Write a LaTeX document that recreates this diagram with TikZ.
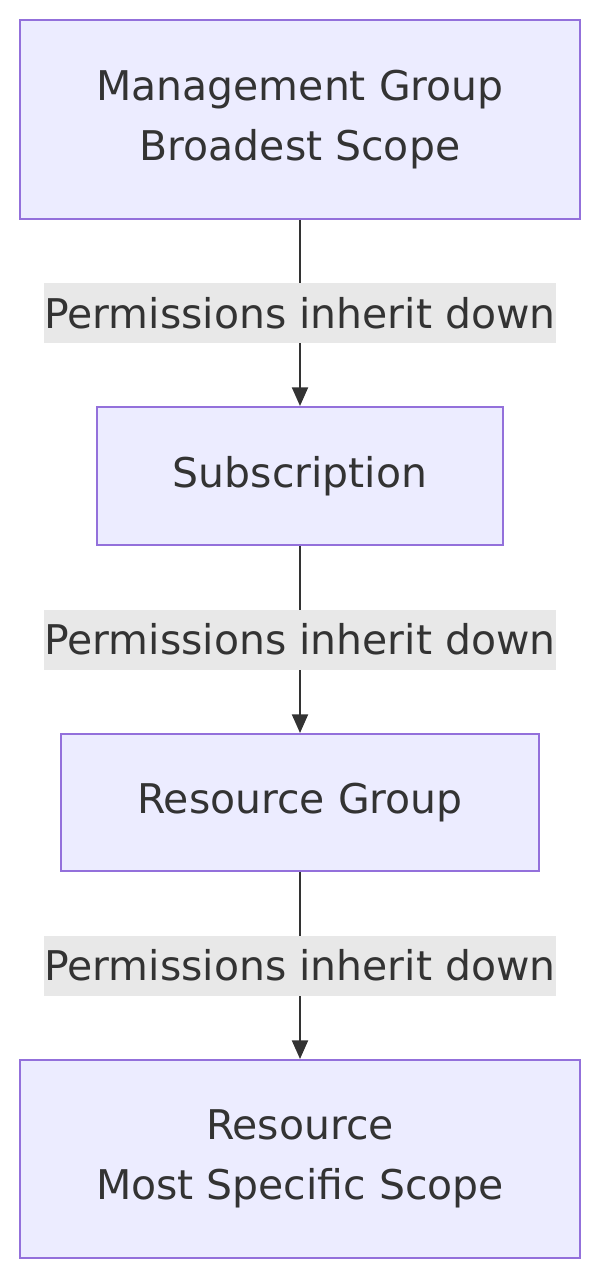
\documentclass[tikz,border=0pt]{standalone}
\usepackage{fontspec}
\setmainfont{DejaVu Sans}
\usetikzlibrary{positioning,arrows.meta}
\definecolor{boxfill}{HTML}{ECECFF}
\definecolor{boxline}{HTML}{9370DB}
\definecolor{ink}{HTML}{333333}
\definecolor{lblfill}{HTML}{E8E8E8}
\begin{document}
\begin{tikzpicture}[
    x=0.75pt, y=-0.75pt,
    box/.style={rectangle, draw=boxline, line width=1.5pt, fill=boxfill, align=center, inner sep=0pt, text=ink, font=\fontsize{30.7}{45}\selectfont},
    lbl/.style={fill=lblfill, text=ink, inner sep=0pt, minimum width=382.5pt, minimum height=45pt, font=\fontsize{30.7}{45}\selectfont},
    arrow/.style={-{Triangle[length=14pt,width=12pt]}, draw=ink, line width=1.5pt}
]
\useasboundingbox (0,0) rectangle (600,1280);

% Scope hierarchy
\node[box, minimum width=420pt, minimum height=149pt] (mgmt) at (300,119.5) {Management Group\\Broadest Scope};
\node[box, minimum width=305pt, minimum height=103.5pt] (sub) at (300,476) {Subscription};
\node[box, minimum width=358.5pt, minimum height=102.75pt] (rg) at (300,802.5) {Resource Group};
\node[box, minimum width=420pt, minimum height=148.5pt] (res) at (300,1159) {Resource\\Most Specific Scope};

% Inheritance
\draw[arrow] (mgmt) -- node[lbl] (l1) {Permissions inherit down} (sub);
\draw[arrow] (sub) -- node[lbl] (l2) {Permissions inherit down} (rg);
\draw[arrow] (rg) -- node[lbl] (l3) {Permissions inherit down} (res);

\end{tikzpicture}
\end{document}
